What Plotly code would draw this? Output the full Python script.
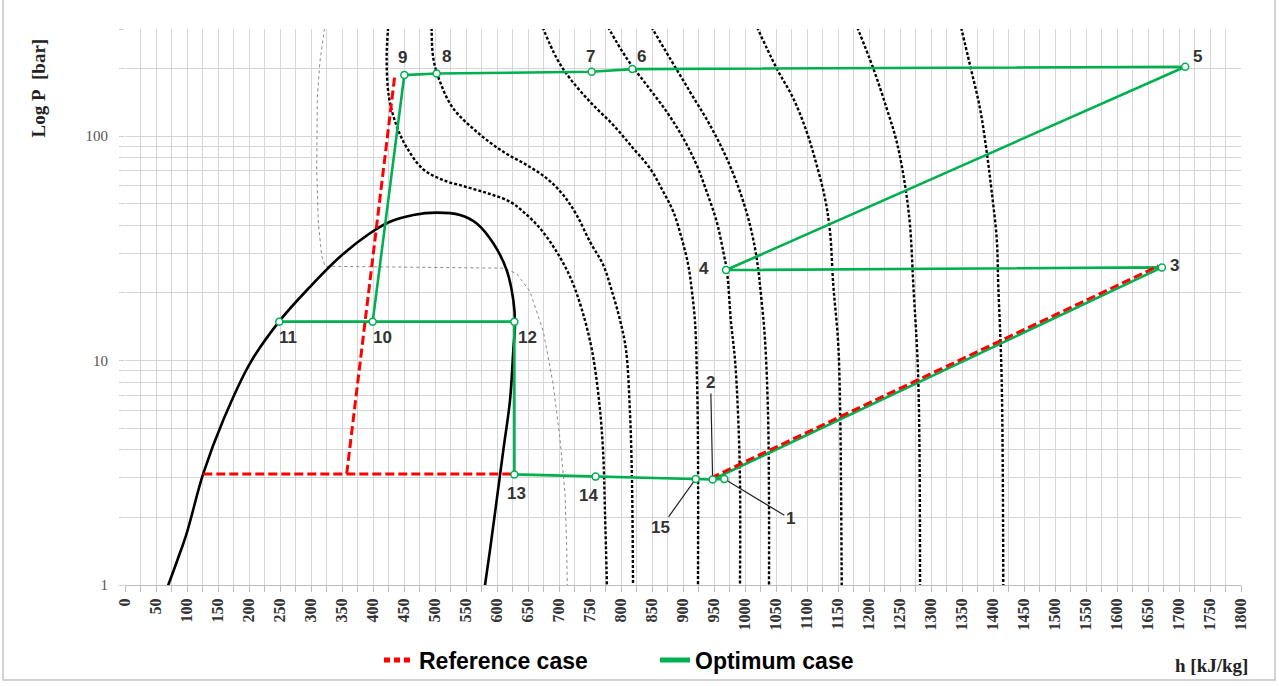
import math
import plotly.graph_objects as go

# ---------------- data ----------------
# saturation dome
dome_h = [68, 84, 99.5, 126.3, 158.5, 201.6, 250, 298.4, 346.8, 395.2, 427.4, 465, 502.7, 540.3, 567.3, 594, 615.6, 626.3, 629, 626.3, 621, 610.2, 599.5, 588.7, 580]
dome_P = [0.97, 1.28, 1.70, 3.14, 5.43, 9.72, 15.1, 21.3, 29.0, 36.9, 41.5, 44.5, 45.6, 44.5, 40.8, 33.3, 25.3, 18.6, 14.6, 11.1, 6.67, 3.99, 2.39, 1.43, 0.97]

# isotherms (dashed)
A_h = [425, 422, 425.8, 438.2, 454.4, 480.6, 512.9, 551.1, 588.7, 621.0, 642.4, 669.4, 696.3, 719.4, 737.1, 753.2, 764.5, 771.0, 774.2, 777.4]
A_P = [320, 222, 149, 110.8, 88.9, 71.3, 63.7, 59.3, 55.2, 51.0, 46.0, 38.8, 30.5, 23.1, 16.8, 11.1, 6.67, 3.99, 2.09, 0.97]
B_h = [494.5, 497.3, 508.1, 529.0, 567.3, 610.2, 647.9, 680.2, 706.9, 728.5, 750.0, 771.5, 783.9, 798.4, 808.1, 814.5, 817.7, 819.4]
B_P = [320, 222, 174.6, 133.3, 104.5, 85.1, 74.3, 64.8, 54.6, 44.5, 33.8, 26.6, 21.0, 15.15, 11.14, 5.84, 2.94, 0.97]
C_h = [670.7, 696.3, 717.7, 750.0, 787.6, 819.8, 846.8, 868.2, 884.4, 897.9, 908.5, 914.5, 919.4, 922.6, 924.2, 924.2]
C_P = [320, 222, 180.7, 142.2, 111.9, 88.1, 71.8, 56.5, 46.0, 35.0, 26.6, 20.2, 14.84, 8.19, 3.99, 0.97]
D_h = [775, 809.2, 841.5, 873.7, 900.5, 922.1, 938.2, 954.4, 965.0, 971.0, 977.4, 983.9, 988.7, 991.9, 991.9]
D_P = [320, 222, 168.7, 128.3, 97.7, 74.3, 56.5, 41.5, 30.5, 24.8, 14.84, 10.05, 5.84, 2.94, 0.97]
E_h = [845, 879.0, 911.3, 943.5, 970.5, 991.9, 1008.1, 1018.9, 1025.8, 1032.3, 1037.1, 1038.7, 1038.7]
E_P = [320, 222, 157.5, 111.9, 79.6, 56.5, 40.1, 28.5, 19.6, 12.3, 5.84, 2.39, 0.97]
F_h = [1016, 1051.1, 1077.9, 1099.5, 1115.6, 1129.0, 1137.1, 1142.4, 1150.0, 1153.2, 1156.0]
F_P = [320, 200.3, 147.2, 104.5, 74.3, 52.9, 37.5, 21.7, 12.3, 6.67, 0.97]
G_h = [1178, 1206.9, 1228.5, 1244.7, 1258.1, 1266.1, 1271.5, 1279.5, 1282.3]
G_P = [320, 200.3, 132.9, 94.3, 60.5, 40.1, 21.7, 8.19, 0.97]
H_h = [1346.7, 1362.9, 1379.0, 1389.8, 1397.9, 1406.0, 1408.5, 1414.0, 1416.6]
H_P = [320, 207.2, 132.9, 85.1, 56.5, 35.0, 21.7, 8.19, 0.97]

# thin dotted curve
I_h = [323, 314.5, 310.2, 309.2, 311.8, 317.3, 322.6, 610.2, 631.8, 653.2, 674.7, 690.8, 701.6, 709.7, 712.4, 713.4]
I_P = [320, 215.8, 149.2, 71.3, 41.0, 29.3, 26.3, 25.8, 24.4, 20.3, 13.5, 7.78, 4.47, 2.56, 1.47, 0.97]

# reference case (red dashed)
ref_h = [126.3, 628, None, 357.6, 435.5, None, 945, 1667]
ref_P = [3.12, 3.12, None, 3.13, 189.8, None, 3.0, 26.4]

# optimum case state points
pt_id = [1, 2, 3, 4, 5, 6, 7, 8, 9, 10, 11, 12, 13, 14, 15]
pt_h = [966.6, 947.8, 1672.4, 969.4, 1710, 818.3, 752.7, 502.7, 450.5, 399.5, 248.9, 628, 628, 759, 920.5]
pt_P = [2.97, 2.95, 26.0, 25.3, 203.6, 198.8, 193.5, 190, 187, 14.9, 14.9, 14.9, 3.11, 3.04, 2.97]
# order of the optimum-case path (None = break)
path = [11, 10, 12, 13, 14, 15, 2, 1, None, 2, 3, 4, 5, 6, 7, 8, 9, 10]

# label offsets in px (dx, dy up)
lab_off = {9: (-2, 18), 8: (10, 17), 7: (-1, 15), 6: (9, 13), 5: (12, 10), 4: (-22, 2), 3: (13, 2),
           11: (9, -16), 10: (10, -16), 12: (13, -16), 13: (2, -19), 14: (-7, -19)}
arrow_lab = {15: (-35, 49), 2: (-2, -97), 1: (66, 40)}

x_ticks = list(range(0, 1801, 50))
y_ticks = [1, 2, 3, 4, 5, 6, 7, 8, 9, 10, 20, 30, 40, 50, 60, 70, 80, 90, 100, 200, 300]
y_text = [str(v) if v in (1, 10, 100) else "" for v in y_ticks]

GREEN = "#00b050"
RED = "#ff0000"

fig = go.Figure()


def add_line(h, P, **kw):
    fig.add_trace(go.Scatter(x=h, y=P, mode="lines", showlegend=False, hoverinfo="skip", **kw))


add_line(I_h, I_P, line=dict(color="#8a8a8a", width=1, dash="dot"))
for hh, pp in [(A_h, A_P), (B_h, B_P), (C_h, C_P), (D_h, D_P), (E_h, E_P), (F_h, F_P), (G_h, G_P), (H_h, H_P)]:
    add_line(hh, pp, line=dict(color="black", width=2.4, dash="3px,2px", shape="spline", smoothing=1.0))
add_line(dome_h, dome_P, line=dict(color="black", width=2.6, shape="spline", smoothing=1.0))

idx = {p: i for i, p in enumerate(pt_id)}
gx = [pt_h[idx[p]] if p is not None else None for p in path]
gy = [pt_P[idx[p]] if p is not None else None for p in path]
add_line(gx, gy, line=dict(color=GREEN, width=2.6))
add_line(ref_h, ref_P, line=dict(color=RED, width=3, dash="9px,4px"))
fig.add_trace(go.Scatter(x=pt_h, y=pt_P, mode="markers", showlegend=False, hoverinfo="skip",
                         marker=dict(size=7, color="white", line=dict(color=GREEN, width=1.5))))

# legend-only traces
fig.add_trace(go.Scatter(x=[None], y=[None], mode="lines", name="Reference case",
                         line=dict(color=RED, width=5, dash="6px,4px")))
fig.add_trace(go.Scatter(x=[None], y=[None], mode="lines", name="Optimum case",
                         line=dict(color=GREEN, width=5)))

ann = []
for p, (dx, dy) in lab_off.items():
    i = idx[p]
    ann.append(dict(x=pt_h[i], y=math.log10(pt_P[i]), text=str(p), showarrow=False, xshift=dx, yshift=dy,
                    xanchor="center", yanchor="middle",
                    font=dict(family="Liberation Sans", size=17, color="#333333", weight="bold")))
for p, (ax, ay) in arrow_lab.items():
    i = idx[p]
    ann.append(dict(x=pt_h[i], y=math.log10(pt_P[i]), text=str(p), showarrow=True, ax=ax, ay=ay,
                    arrowhead=0, arrowwidth=1.2, arrowcolor="#222222", standoff=4,
                    font=dict(family="Liberation Sans", size=17, color="#333333", weight="bold")))
ann.append(dict(xref="paper", yref="paper", x=(37.5 - 125) / 1116, y=(585 - 88) / 556,
                xanchor="center", yanchor="middle",
                text="Log P\u00a0\u00a0[bar]", textangle=-90, showarrow=False,
                font=dict(family="Liberation Serif", size=19, color="#222222", weight="bold")))
ann.append(dict(xref="paper", yref="paper", x=(1211 - 125) / 1116, y=(585 - 665) / 556,
                xanchor="center", yanchor="middle",
                text="h [kJ/kg]", showarrow=False,
                font=dict(family="Liberation Serif", size=19, color="#222222", weight="bold")))

GRID = "#d6d6d6"
fig.update_layout(
    width=1279, height=686,
    margin=dict(l=125, r=38, t=29, b=101, autoexpand=False),
    paper_bgcolor="white", plot_bgcolor="white",
    annotations=ann,
    showlegend=True,
    legend=dict(orientation="h", x=(379 - 125) / 1116, y=(585 - 660) / 556, xanchor="left", yanchor="middle",
                font=dict(family="Liberation Sans", size=23, color="black", weight="bold"),
                bgcolor="rgba(0,0,0,0)", entrywidth=231, entrywidthmode="pixels"),
    shapes=[dict(type="rect", xref="paper", yref="paper",
                 x0=(3 - 125) / 1116, x1=(1275 - 125) / 1116,
                 y0=(585 - 680) / 556, y1=(585 + 5) / 556,
                 line=dict(color="#c4c4c4", width=1.5), layer="below")],
    xaxis=dict(range=[0, 1800], tickmode="array", tickvals=x_ticks, ticktext=[str(v) for v in x_ticks],
               tickangle=-90, showgrid=True, gridcolor=GRID, gridwidth=1, automargin=False,
               ticks="outside", ticklen=6, tickcolor="#bdbdbd",
               minor=dict(dtick=25, tick0=0, showgrid=True, gridcolor=GRID, ticks="outside", ticklen=6, tickcolor="#bdbdbd"),
               showline=True, linecolor="#bdbdbd", zeroline=False, mirror=False,
               tickfont=dict(family="Liberation Serif", size=16, color="#333333", weight="bold")),
    yaxis=dict(type="log", range=[0, math.log10(300)], tickmode="array", tickvals=y_ticks, ticktext=y_text,
               showgrid=True, gridcolor=GRID, gridwidth=1, ticks="outside", ticklen=5, tickcolor="#cfcfcf",
               showline=False, zeroline=False, ticklabelstandoff=8, automargin=False,
               tickfont=dict(family="Liberation Serif", size=15, color="#555555")),
)

fig.write_html("out.html", config={"displayModeBar": False},
               post_script="document.body.style.margin='0px';")
